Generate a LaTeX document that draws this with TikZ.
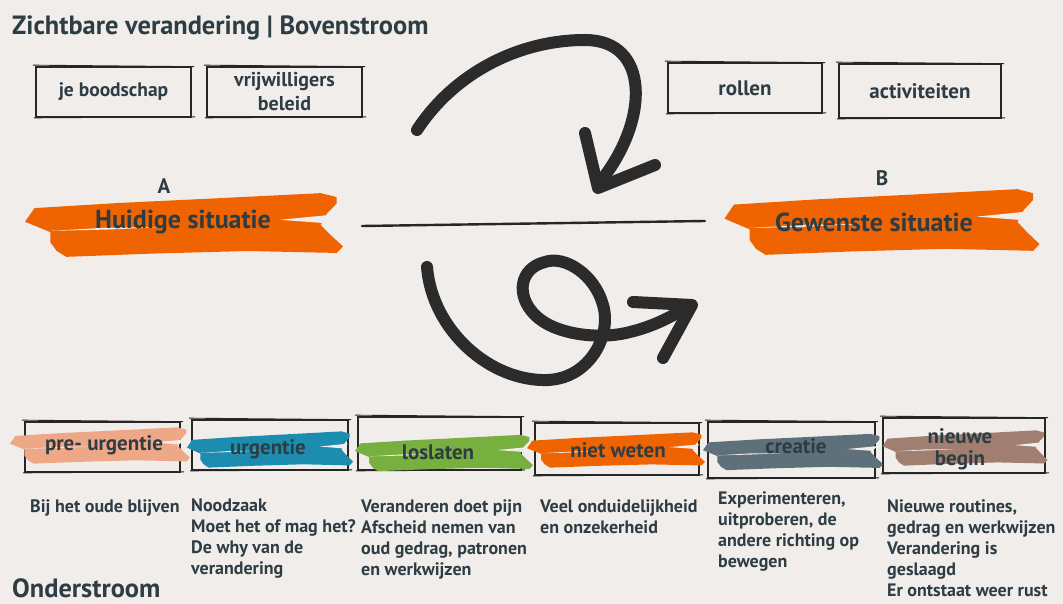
\documentclass[tikz,border=0pt]{standalone}
\usepackage{fontspec}
\setmainfont{PT Sans}
\definecolor{achtergrond}{HTML}{F0EDEA}
\definecolor{inkt}{HTML}{2E3C43}
\definecolor{lijn}{HTML}{262626}
\definecolor{pijlkleur}{HTML}{2B2B2B}
\definecolor{oranje}{HTML}{EF6300}
\definecolor{perzik}{HTML}{EFA887}
\definecolor{blauw}{HTML}{1C8DAF}
\definecolor{groen}{HTML}{78B040}
\definecolor{leisteen}{HTML}{5E717A}
\definecolor{bruin}{HTML}{A07E70}

% paint stroke behind a label: centre x, centre y, width, height, colour
\newcommand{\kwast}[5]{%
  \begin{scope}[shift={(#1,#2)}, xscale=#3/100, yscale=#4/100]
    \fill[#5] (-50,-5) -- (-47,-26) -- (-20,-34) -- (10,-41) -- (43,-49) -- (48,-43) -- (48,-33) -- (45,-18) -- (43,0) -- (46,15) -- (50,33) -- (48,43) -- (20,40) -- (-10,44) -- (-37,49) -- (-40,40) -- (-42,27) -- (-42,11) -- (-47,1) -- cycle;
    \fill[achtergrond] (-42,9) -- (-24,4) -- (-6,3) -- (-24,7) -- cycle;
    \fill[achtergrond] (47,-16) -- (30,-8) -- (44,-3) -- cycle;
  \end{scope}}

\begin{document}
\begin{tikzpicture}[x=1pt, y=-1pt,
    tekst/.style={font=\bfseries, text=inkt, inner sep=0pt},
    vak/.style={draw=lijn, line width=1.7pt, inner sep=0pt},
    schets/.style={draw=lijn, line width=0.9pt, line cap=round},
    pijl/.style={draw=pijlkleur, line width=12pt, line cap=round, line join=round},
    uitleg/.style={font=\bfseries\fontsize{18}{21}\selectfont, text=inkt, align=left, anchor=north west, inner sep=0pt}]
  \useasboundingbox (0,0) rectangle (1063,604);
  \fill[achtergrond] (0,0) rectangle (1063,604);

  % titles
  \node[tekst, font=\bfseries\fontsize{26.4}{30}\selectfont, anchor=base west] (titel) at (12,35) {Zichtbare verandering | Bovenstroom};
  \node[tekst, font=\bfseries\fontsize{26.4}{30}\selectfont, anchor=base west] (onder) at (12,597) {Onderstroom};

  % boxes above the line
  \node[vak, tekst, draw=lijn, minimum width=155, minimum height=50, font=\bfseries\fontsize{19.5}{24}\selectfont] (boodschap) at (113.5,92) {je boodschap};
  \node[vak, tekst, draw=lijn, minimum width=155, minimum height=50, align=center, font=\bfseries\fontsize{20}{24}\selectfont] (beleid) at (284.5,92) {vrijwilligers\\beleid};
  \node[vak, tekst, draw=lijn, minimum width=154, minimum height=50, font=\bfseries\fontsize{21}{24}\selectfont] (rollen) at (745,88) {rollen};
  \node[vak, tekst, draw=lijn, minimum width=162, minimum height=54, font=\bfseries\fontsize{21}{24}\selectfont] (activiteiten) at (920,91) {activiteiten};

  % A and B
  \kwast{184}{225}{318}{65}{oranje}
  \kwast{882}{222}{315}{67}{oranje}
  \node[tekst, font=\bfseries\fontsize{21}{25}\selectfont] (a) at (164,186) {A};
  \node[tekst, font=\bfseries\fontsize{21}{25}\selectfont] (b) at (882,178) {B};
  \node[tekst, font=\bfseries\fontsize{26}{30}\selectfont] (huidig) at (183,222) {Huidige situatie};
  \node[tekst, font=\bfseries\fontsize{26}{30}\selectfont] (gewenst) at (874,222) {Gewenste situatie};
  \coordinate (lijnA) at (362,226);
  \coordinate (lijnB) at (705,221);
  \draw[lijn, line width=2.4pt, line cap=round] (lijnA) -- (lijnB);

  % arrows
  \draw[pijl] (417,130) .. controls (455,72) and (520,40) .. (585,40) .. controls (650,40) and (650,120) .. (600,182);
  \draw[pijl] (585,133) -- (598,188) -- (655,165);
  \draw[pijl] (427,267) .. controls (432,330) and (490,382) .. (548,380) .. controls (590,378) and (612,335) .. (603,305) .. controls (595,275) and (565,255) .. (545,262) .. controls (520,268) and (515,295) .. (535,315) .. controls (555,335) and (600,340) .. (630,332) .. controls (655,326) and (675,315) .. (690,305);
  \draw[pijl] (633,302) -- (692,305) -- (663,358);

  % phases
  \node[vak, minimum width=155, minimum height=50] (v1) at (102.5,447) {};
  \node[vak, minimum width=156, minimum height=50] (v2) at (270,445) {};
  \node[vak, minimum width=163, minimum height=53] (v3) at (439.5,443.5) {};
  \node[vak, minimum width=164, minimum height=52] (v4) at (617,449) {};
  \node[vak, minimum width=167, minimum height=56] (v5) at (791.5,450) {};
  \node[vak, minimum width=162, minimum height=55] (v6) at (964,445.5) {};
  \foreach \v in {boodschap,beleid,rollen,activiteiten,v1,v2,v3,v4,v5,v6} {
    \draw[schets] ([xshift=-2pt,yshift=1pt]\v.north west) -- ([xshift=2pt,yshift=-0.5pt]\v.north east);
    \draw[schets] ([xshift=-1pt]\v.south west) -- ([xshift=3pt,yshift=1pt]\v.south east);
  }
  \kwast{100}{445.5}{180}{37}{perzik}
  \kwast{270}{449.5}{166}{37}{blauw}
  \kwast{444}{453}{178}{37}{groen}
  \kwast{616}{450}{178}{36}{oranje}
  \kwast{793}{452}{180}{37}{leisteen}
  \kwast{965}{448}{165}{36}{bruin}
  \node[tekst, font=\bfseries\fontsize{21}{22}\selectfont] (f1) at (104,445) {pre- urgentie};
  \node[tekst, font=\bfseries\fontsize{21}{22}\selectfont] (f2) at (268,449) {urgentie};
  \node[tekst, font=\bfseries\fontsize{21}{22}\selectfont] (f3) at (438,452) {loslaten};
  \node[tekst, font=\bfseries\fontsize{21}{22}\selectfont] (f4) at (618,450) {niet weten};
  \node[tekst, font=\bfseries\fontsize{21}{22}\selectfont] (f5) at (796,446) {creatie};
  \node[tekst, font=\bfseries\fontsize{21}{22}\selectfont, align=center] (f6) at (960,449) {nieuwe\\begin};

  % explanations
  \node[uitleg] (u1) at (30,499) {Bij het oude blijven};
  \node[uitleg] (u2) at (191,499) {Noodzaak\\Moet het of mag het?\\De why van de\\verandering};
  \node[uitleg] (u3) at (361,499) {Veranderen doet pijn\\Afscheid nemen van\\oud gedrag, patronen\\en werkwijzen};
  \node[uitleg] (u4) at (540,499) {Veel onduidelijkheid\\en onzekerheid};
  \node[uitleg] (u5) at (718,491) {Experimenteren,\\uitproberen, de\\andere richting op\\bewegen};
  \node[uitleg] (u6) at (887,499) {Nieuwe routines,\\gedrag en werkwijzen\\Verandering is\\geslaagd\\Er ontstaat weer rust};
\end{tikzpicture}
\end{document}
